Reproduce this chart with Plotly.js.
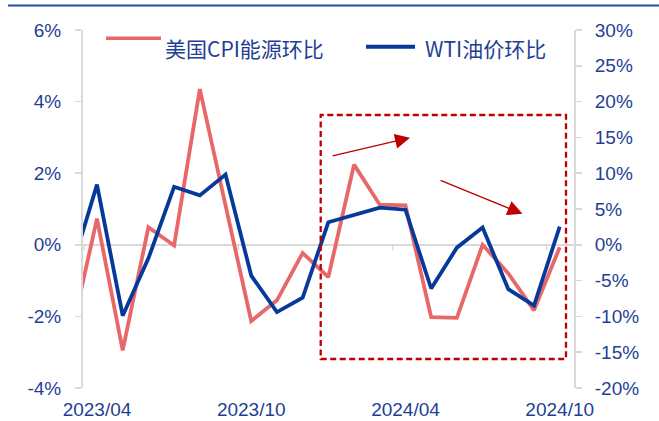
<!DOCTYPE html>
<html>
<head>
<meta charset="utf-8">
<script src="https://cdn.plot.ly/plotly-3.0.1.min.js"></script>
<style>
  html, body { margin: 0; padding: 0; background: #ffffff; }
  #chart { width: 659px; height: 421px; }
</style>
</head>
<body>
<div id="chart"></div>
<script>
// ---- data ----
const months = ['2023/03','2023/04','2023/05','2023/06','2023/07','2023/08','2023/09','2023/10','2023/11','2023/12',
                '2024/01','2024/02','2024/03','2024/04','2024/05','2024/06','2024/07','2024/08','2024/09','2024/10'];
// 美国CPI能源环比 (%), left axis
const cpiEnergy = [-2.5, 0.73, -2.95, 0.49, -0.02, 4.35, 1.1, -2.13, -1.55, -0.23,
                   -0.9, 2.24, 1.12, 1.10, -2.02, -2.04, 0.0, -0.8, -1.83, -0.07];
// WTI油价环比 (%), right axis
const wtiOil = [-3.5, 8.4, -9.9, -1.9, 8.1, 6.9, 9.8, -4.3, -9.4, -7.4,
                3.15, 4.15, 5.2, 4.9, -6.1, -0.4, 2.4, -6.2, -8.5, 2.55];

const seriesNames = ['美国CPI能源环比', 'WTI油价环比'];
const xTickLabels = ['2023/04', '2023/10', '2024/04', '2024/10'];
const leftTickVals = [-4, -2, 0, 2, 4, 6];
const leftTickText = ['-4%', '-2%', '0%', '2%', '4%', '6%'];
const rightTickVals = [-20, -15, -10, -5, 0, 5, 10, 15, 20, 25, 30];
const rightTickText = ['-20%', '-15%', '-10%', '-5%', '0%', '5%', '10%', '15%', '20%', '25%', '30%'];

// ---- styling ----
const RED = '#E8686A';
const BLUE = '#06399A';
const TXT = '#1F3F95';
const GRID = '#D9D9D9';
const DARKRED = '#C00000';
const FONT = 'Liberation Sans, Arial, sans-serif';
const CJK = 'Noto Sans CJK SC, Liberation Sans, sans-serif';

const W = 659, H = 421;
const M = { l: 83, r: 85, t: 30, b: 33 };
const PW = W - M.l - M.r, PH = H - M.t - M.b;
const px = v => (v - M.l) / PW;            // pixel x -> paper
const py = v => (H - M.b - v) / PH;        // pixel y -> paper

const xIdx = months.map((_, i) => i);
const xTickVals = xTickLabels.map(l => months.indexOf(l));
const boundaryTicks = xTickVals.map(v => v - 0.5);

const traces = [
  { x: xIdx, y: cpiEnergy, name: seriesNames[0], type: 'scatter', mode: 'lines',
    line: { color: RED, width: 3.8 }, yaxis: 'y', showlegend: false, hoverinfo: 'skip' },
  { x: xIdx, y: wtiOil, name: seriesNames[1], type: 'scatter', mode: 'lines',
    line: { color: BLUE, width: 3.8 }, yaxis: 'y2', showlegend: false, hoverinfo: 'skip' }
];

const shapes = [
  // header rule
  { type: 'line', xref: 'paper', yref: 'paper', x0: px(8), x1: px(662), y0: py(5.5), y1: py(5.5),
    line: { color: '#1F4EA3', width: 2 } },
  // legend samples
  { type: 'line', xref: 'paper', yref: 'paper', x0: px(106), x1: px(161), y0: py(38.3), y1: py(38.3),
    line: { color: RED, width: 3.6 } },
  { type: 'line', xref: 'paper', yref: 'paper', x0: px(366), x1: px(415), y0: py(46.7), y1: py(46.7),
    line: { color: BLUE, width: 4 } },
  // highlight box
  { type: 'rect', xref: 'paper', yref: 'paper', x0: px(320.7), x1: px(566), y0: py(359), y1: py(115),
    line: { color: DARKRED, width: 2.3, dash: '6px,3.5px' }, fillcolor: 'rgba(0,0,0,0)' }
];
// small tick marks on the zero line at category boundaries
boundaryTicks.forEach(v => shapes.push({
  type: 'line', xref: 'x', yref: 'y', x0: v, x1: v, y0: 0, y1: -0.15,
  line: { color: GRID, width: 1.5 }, layer: 'below'
}));

const annotations = [
  { xref: 'paper', yref: 'paper', x: px(163), y: py(48), xanchor: 'left', yanchor: 'middle',
    text: seriesNames[0], showarrow: false, font: { family: CJK, size: 21, color: TXT } },
  { xref: 'paper', yref: 'paper', x: px(423), y: py(48), xanchor: 'left', yanchor: 'middle',
    text: seriesNames[1], showarrow: false, font: { family: CJK, size: 21, color: TXT } },
  // arrows
  { xref: 'paper', yref: 'paper', x: px(410), y: py(137.8), text: '', showarrow: true,
    axref: 'pixel', ayref: 'pixel', ax: -79, ay: 18.5,
    arrowhead: 2, arrowsize: 2.3, arrowwidth: 1.3, arrowcolor: DARKRED, standoff: 0 },
  { xref: 'paper', yref: 'paper', x: px(522.5), y: py(213.8), text: '', showarrow: true,
    axref: 'pixel', ayref: 'pixel', ax: -83.5, ay: -34,
    arrowhead: 2, arrowsize: 2.3, arrowwidth: 1.3, arrowcolor: DARKRED, standoff: 0 }
];

const layout = {
  width: W, height: H,
  margin: M,
  paper_bgcolor: '#ffffff', plot_bgcolor: '#ffffff',
  showlegend: false,
  xaxis: {
    range: [0.456, 19.556], showgrid: false, zeroline: false, showline: false,
    tickmode: 'array', tickvals: xTickVals, ticktext: xTickLabels, ticks: '',
    ticklabelstandoff: 8,
    tickfont: { family: FONT, size: 19, color: TXT }, fixedrange: true
  },
  yaxis: {
    range: [-4, 6], tickmode: 'array', tickvals: leftTickVals, ticktext: leftTickText,
    showgrid: false, zeroline: true, zerolinecolor: GRID, zerolinewidth: 2,
    showline: true, linecolor: GRID, linewidth: 2,
    ticks: 'outside', ticklen: 6, tickwidth: 1.5, tickcolor: GRID,
    ticklabelstandoff: 10,
    tickfont: { family: FONT, size: 19, color: TXT }, fixedrange: true
  },
  yaxis2: {
    range: [-20, 30], overlaying: 'y', side: 'right', tickmode: 'array',
    tickvals: rightTickVals, ticktext: rightTickText,
    showgrid: false, zeroline: false,
    showline: true, linecolor: GRID, linewidth: 2,
    ticks: 'outside', ticklen: 6, tickwidth: 1.5, tickcolor: GRID,
    ticklabelstandoff: 9,
    tickfont: { family: FONT, size: 19, color: TXT }, fixedrange: true
  },
  shapes: shapes,
  annotations: annotations
};

Plotly.newPlot('chart', traces, layout, { staticPlot: true, displayModeBar: false });
</script>
</body>
</html>
